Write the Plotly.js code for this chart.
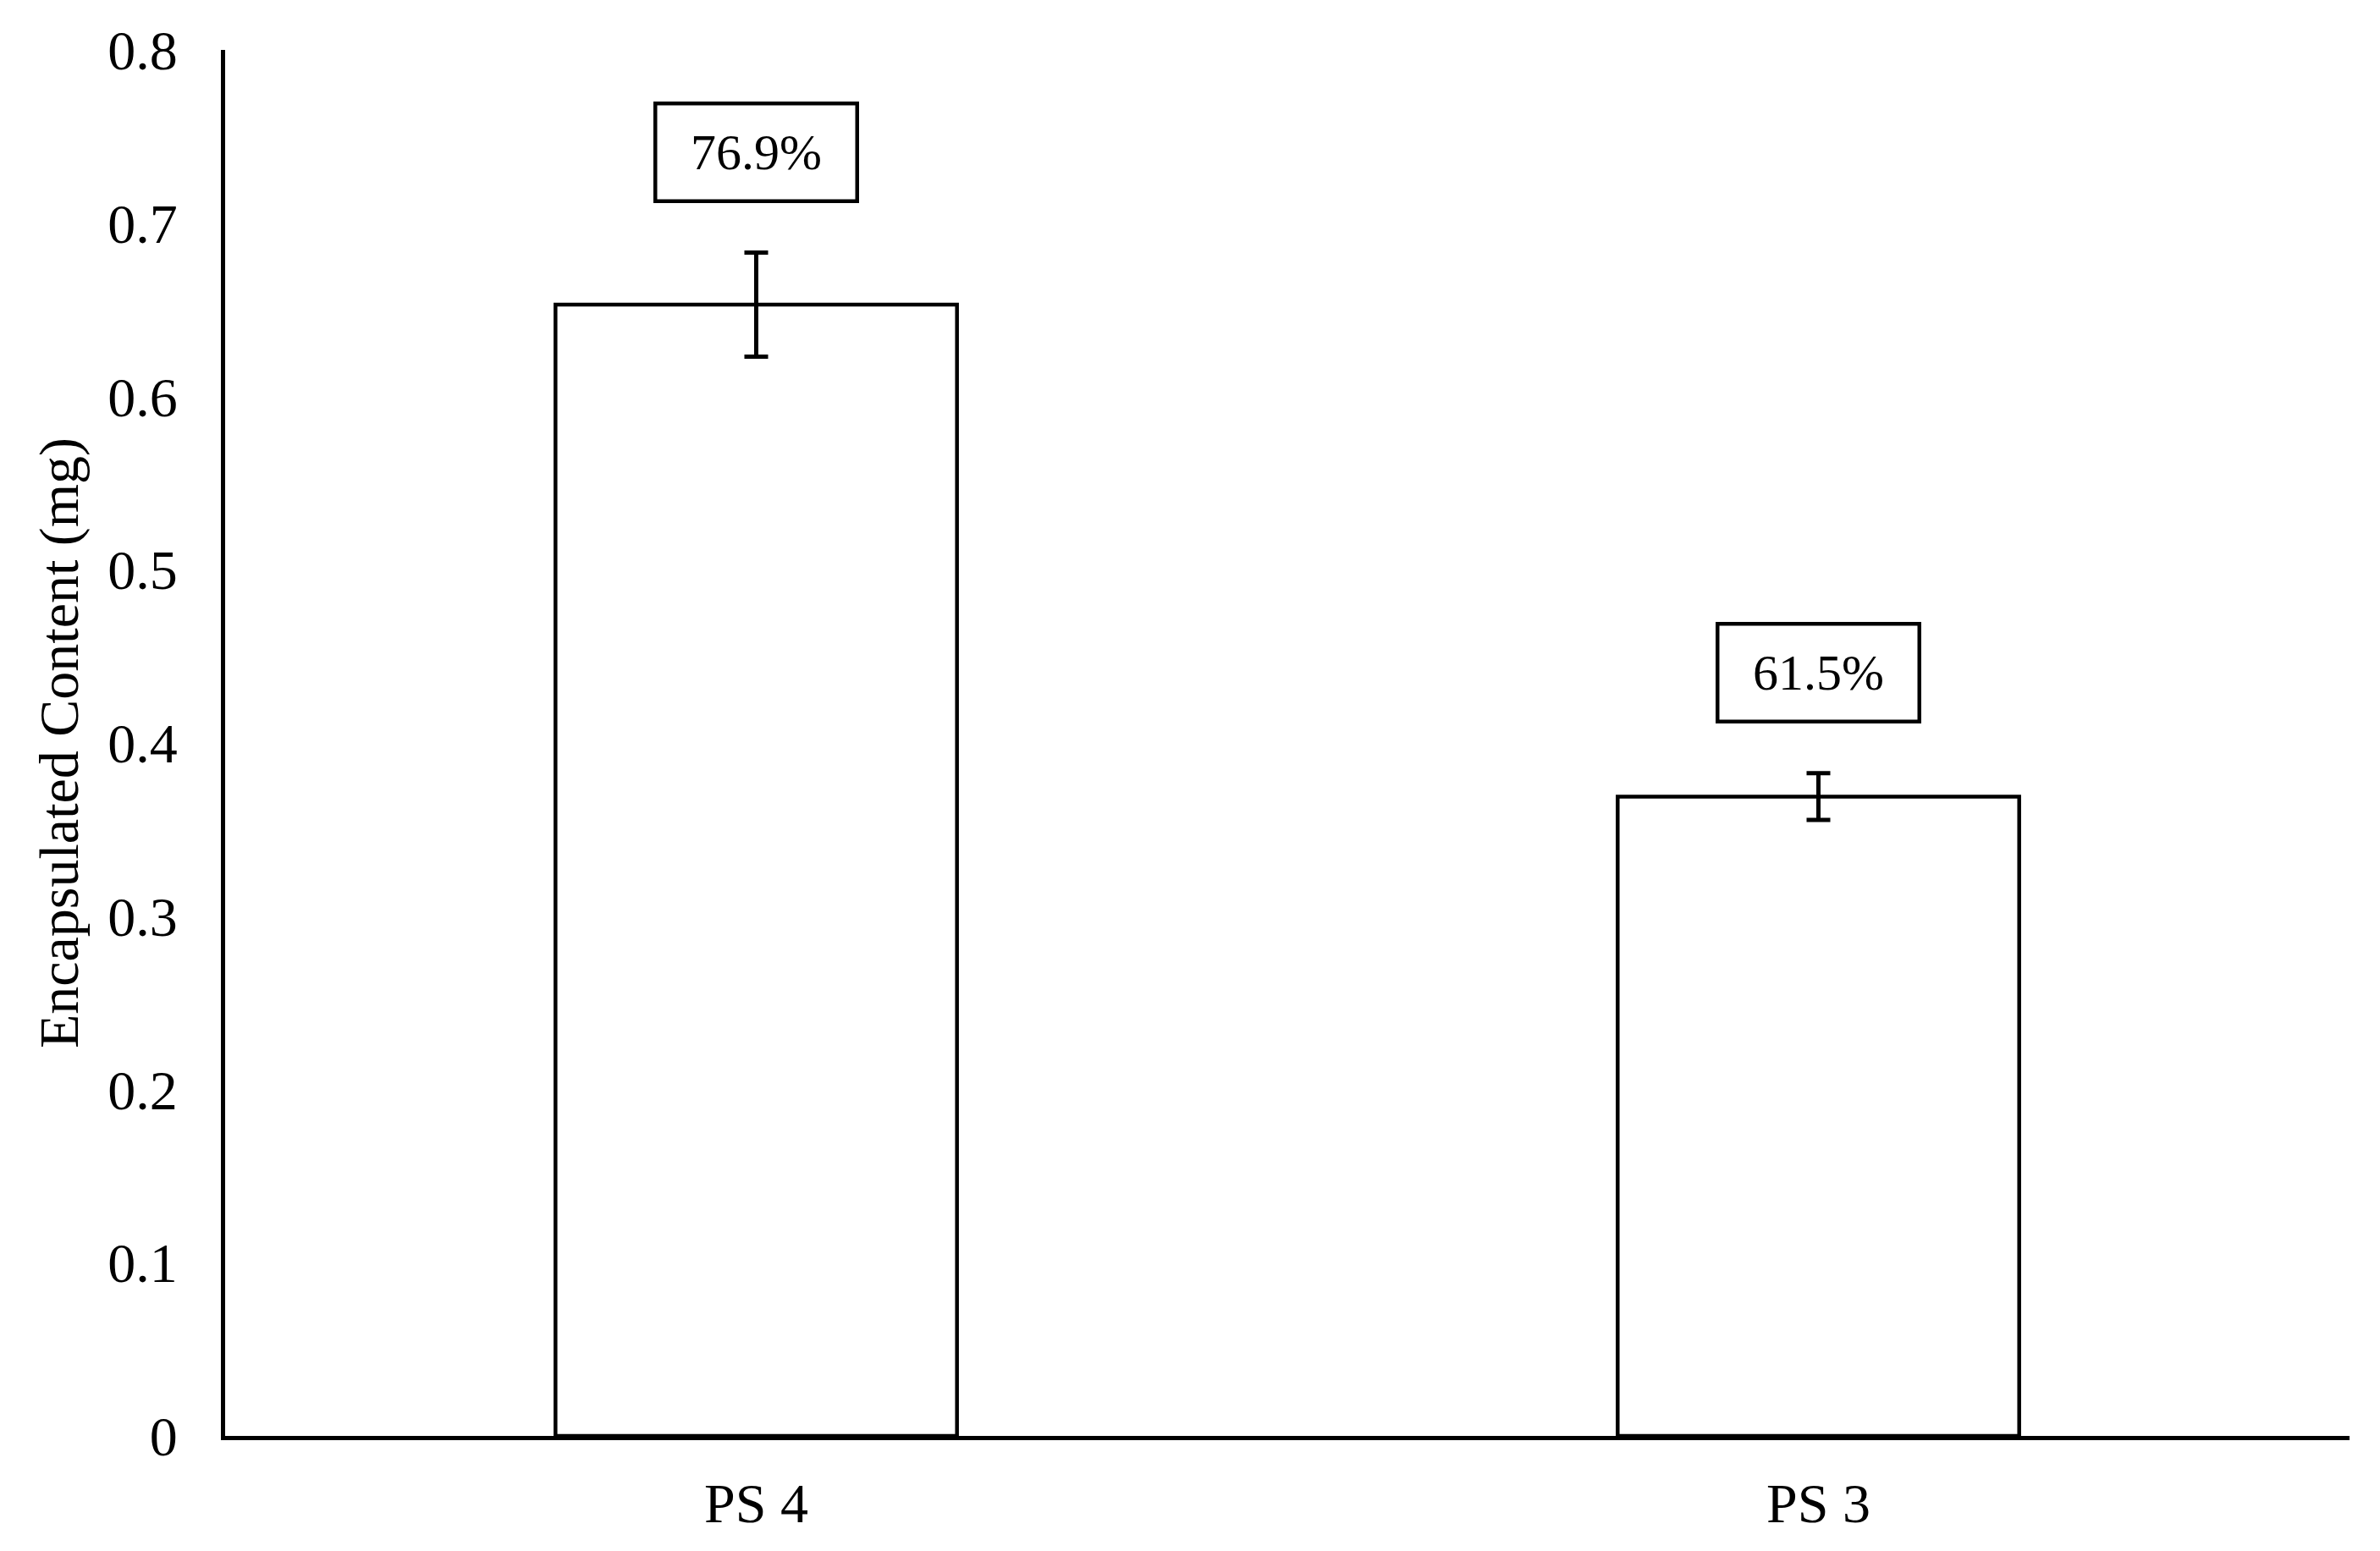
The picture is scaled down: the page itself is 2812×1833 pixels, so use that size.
<!DOCTYPE html>
<html>
<head>
<meta charset="utf-8">
<script src="https://cdn.plot.ly/plotly-3.0.1.min.js"></script>
<style>
  html, body { margin: 0; padding: 0; background: #fff; }
  #chart { width: 2812px; height: 1833px; }
</style>
</head>
<body>
<div id="chart"></div>
<script>
// Chart data
const samples = ["PS 4", "PS 3"];
const contentMg = [0.653, 0.369];
const contentErr = [0.030, 0.0135];
const efficiency = ["76.9%", "61.5%"];

const serif = "Liberation Serif, Times New Roman, serif";

// Bars with error bars
const barTrace = {
  type: "bar",
  x: samples,
  y: contentMg,
  marker: { color: "#ffffff", line: { color: "#000000", width: 4.5 } },
  error_y: { type: "data", array: contentErr, visible: true, color: "#000000", thickness: 5, width: 14 },
  hoverinfo: "x+y"
};

// Boxed percentage labels above each error bar
const boxLabels = samples.map((s, i) => ({
  x: s,
  y: contentMg[i] + contentErr[i] + 0.058,
  xref: "x",
  yref: "y",
  text: efficiency[i],
  showarrow: false,
  font: { family: serif, size: 60, color: "#000000" },
  bordercolor: "#000000",
  borderwidth: 4.5,
  borderpad: 0,
  width: 234,
  height: 111,
  bgcolor: "#ffffff",
  xanchor: "center",
  yanchor: "middle"
}));

const layout = {
  width: 2812,
  height: 1833,
  margin: { l: 266, r: 36, t: 59, b: 136 },
  paper_bgcolor: "#ffffff",
  plot_bgcolor: "#ffffff",
  font: { family: serif, size: 66, color: "#000000" },
  showlegend: false,
  bargap: 0.622,
  xaxis: {
    showline: true,
    linecolor: "#000000",
    linewidth: 5,
    showgrid: false,
    zeroline: false,
    ticks: "",
    ticklabelstandoff: 18,
    tickfont: { family: serif, size: 66, color: "#000000" }
  },
  yaxis: {
    range: [0, 0.8],
    dtick: 0.1,
    showline: true,
    linecolor: "#000000",
    linewidth: 5,
    showgrid: false,
    zeroline: false,
    ticks: "",
    ticklabelstandoff: 38,
    tickfont: { family: serif, size: 66, color: "#000000" },
    title: {
      text: "Encapsulated Content (mg)",
      font: { family: serif, size: 66, color: "#000000" },
      standoff: 15
    }
  },
  annotations: boxLabels
};

Plotly.newPlot("chart", [barTrace], layout, { displayModeBar: false, staticPlot: true });
</script>
</body>
</html>
